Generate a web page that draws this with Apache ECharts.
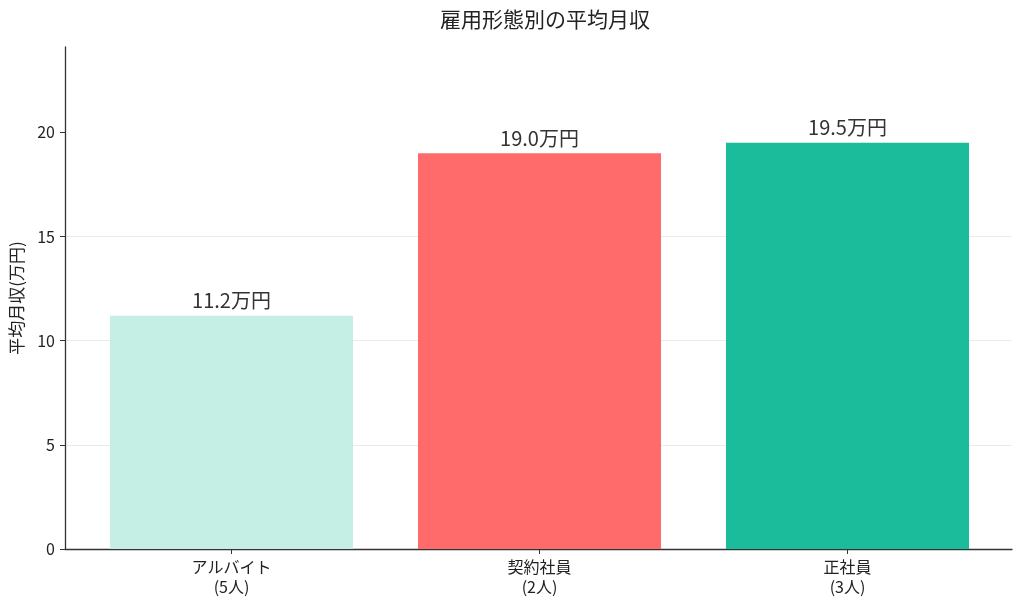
<!DOCTYPE html>
<html>
<head>
<meta charset="utf-8">
<script src="https://cdn.jsdelivr.net/npm/echarts@6/dist/echarts.min.js"></script>
<style>
    html, body { margin: 0; padding: 0; background: #fff; }
    #main { width: 1024px; height: 607px; }
</style>
</head>
<body>
<div id="main"></div>
<script>
// 雇用形態ごとの平均月収(万円)
const categories = ['アルバイト\n(5人)', '契約社員\n(2人)', '正社員\n(3人)']
const salaries   = [11.2, 19.0, 19.5]
const barColors  = ['#c5efe5', '#ff6b6b', '#1abc9c']
const yTicks     = [0, 5, 10, 15, 20]

const FONT = '"Noto Sans CJK JP", "Noto Sans", sans-serif'
const Y_MAX = 24.1

let chart = echarts.init(document.getElementById('main'))

let options = {
    animation: false,
    backgroundColor: '#fff',
    textStyle: { fontFamily: FONT },
    title: {
        text: '雇用形態別の平均月収',
        left: 540,
        textAlign: 'center',
        top: 4,
        textStyle: { fontFamily: FONT, fontSize: 21, fontWeight: 'normal', color: '#222' }
    },
    // grid 0: 軸線と目盛り、grid 1: 棒
    grid: [
        { left: 65, right: 12, top: 47, bottom: 58, outerBoundsMode: 'none', containLabel: false },
        { left: 77.5, right: 22.5, top: 47, bottom: 58, outerBoundsMode: 'none', containLabel: false }
    ],
    xAxis: [
        {
            gridIndex: 0, type: 'value', min: 0, max: 1,
            axisLine: { show: true, lineStyle: { color: '#333', width: 1.3 } },
            axisTick: { show: false }, axisLabel: { show: false }, splitLine: { show: false }
        },
        {
            gridIndex: 1, type: 'category', data: categories,
            axisLine: { show: false },
            axisTick: { show: true, alignWithLabel: true, length: 5, lineStyle: { color: '#333' } },
            axisLabel: { fontFamily: FONT, fontSize: 16, color: '#222', lineHeight: 20, margin: 8 }
        }
    ],
    yAxis: [
        {
            gridIndex: 0, type: 'value', min: 0, max: Y_MAX, interval: 5,
            axisLine: { show: true, lineStyle: { color: '#333', width: 1.3 } },
            axisTick: { show: true, length: 5, customValues: yTicks, lineStyle: { color: '#333' } },
            axisLabel: {
                fontFamily: FONT, fontSize: 16, color: '#222', margin: 10,
                customValues: yTicks
            },
            splitLine: { show: true, showMaxLine: false, lineStyle: { color: '#ebebeb', width: 1 } },
            name: '平均月収(万円)',
            nameLocation: 'middle',
            nameGap: 40,
            nameRotate: 90,
            nameTextStyle: { fontFamily: FONT, fontSize: 17, color: '#222' }
        },
        {
            gridIndex: 1, type: 'value', min: 0, max: Y_MAX,
            axisLine: { show: false }, axisTick: { show: false },
            axisLabel: { show: false }, splitLine: { show: false }
        }
    ],
    series: [{
        type: 'bar',
        xAxisIndex: 1,
        yAxisIndex: 1,
        barWidth: 243,
        data: salaries.map((v, i) => ({ value: v, itemStyle: { color: barColors[i] } })),
        label: {
            show: true,
            position: 'top',
            distance: 5,
            fontFamily: FONT,
            fontSize: 20,
            color: '#333',
            formatter: p => p.value.toFixed(1) + '万円'
        }
    }]
}

chart.setOption(options)
</script>
</body>
</html>
